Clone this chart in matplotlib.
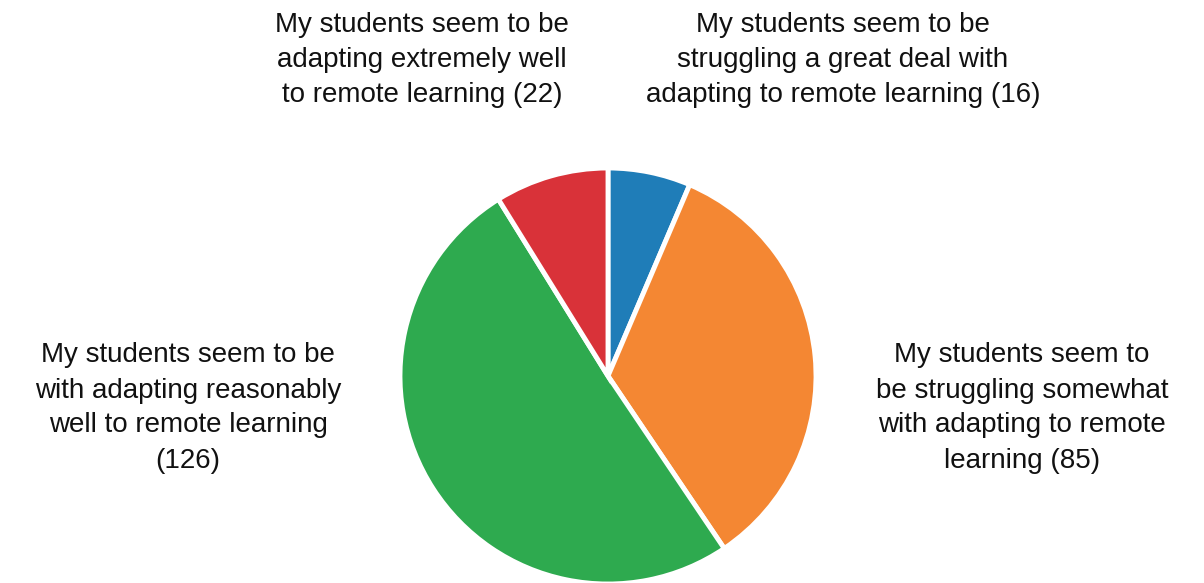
import matplotlib.pyplot as plt

W, H = 1204, 583

counts = [16, 85, 126, 22]
colors = ["#1f7db8", "#f48733", "#2eaa4f", "#d93239"]
labels = [
    "My students seem to be\nstruggling a great deal with\nadapting to remote learning (16)",
    "My students seem to\nbe struggling somewhat\nwith adapting to remote\nlearning (85)",
    "My students seem to be\nwith adapting reasonably\nwell to remote learning\n(126)",
    "My students seem to be\nadapting extremely well\nto remote learning (22)",
]
# label centres in pixels from the top-left corner
label_pos = [(843, 60), (1022, 408), (188, 408), (422, 60)]

plt.rcParams['font.family'] = ['Liberation Sans', 'DejaVu Sans']

fig = plt.figure(figsize=(W / 100, H / 100), dpi=100)
ax = fig.add_axes([0, 0, 1, 1])
ax.set_xlim(0, W)
ax.set_ylim(0, H)
ax.set_aspect('equal')
ax.axis('off')

ax.pie(counts, colors=colors, startangle=90, counterclock=False,
       center=(608, H - 376), radius=208,
       wedgeprops=dict(edgecolor='white', linewidth=3.5))
ax.set_xlim(0, W)
ax.set_ylim(0, H)

for txt, (x, y) in zip(labels, label_pos):
    ax.text(x, H - y, txt, ha='center', va='center', fontsize=20,
            linespacing=1.45, color='#111111')

fig.savefig("out.png", dpi=100)
